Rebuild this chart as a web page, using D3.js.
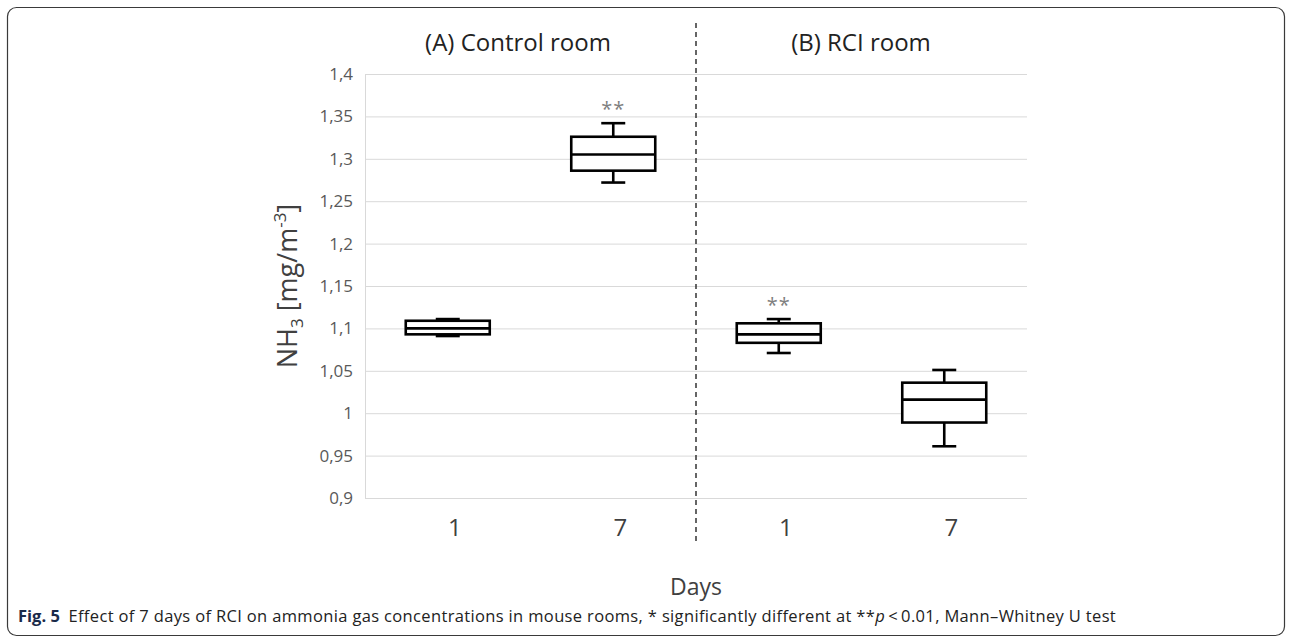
<!DOCTYPE html>
<html>
<head>
<meta charset="utf-8">
<script src="https://cdn.jsdelivr.net/npm/d3@7/dist/d3.min.js"></script>
<style>
  html, body { margin: 0; padding: 0; background: #fff; }
  svg { display: block; }
</style>
</head>
<body>
<svg id="chart" width="1292" height="640"></svg>
<script>
// ---- data ----
const categories = ["Control-1", "Control-7", "RCI-1", "RCI-7"];
const dayLabels = ["1", "7", "1", "7"];
const panelTitles = ["(A) Control room", "(B) RCI room"];
const whiskerMin = [1.091, 1.272, 1.071, 0.961];
const q1Values = [1.093, 1.286, 1.083, 0.989];
const medianValues = [1.100, 1.305, 1.093, 1.016];
const q3Values = [1.109, 1.326, 1.106, 1.036];
const whiskerMax = [1.111, 1.342, 1.111, 1.051];
const significance = ["", "**", "**", ""];
const yTicks = [0.9, 0.95, 1, 1.05, 1.1, 1.15, 1.2, 1.25, 1.3, 1.35, 1.4];
const xTitle = "Days";
const captionBold = "Fig. 5";
const captionText = "Effect of 7 days of RCI on ammonia gas concentrations in mouse rooms, * significantly different at **";
const captionRest = "\u2009<\u20090.01, Mann\u2013Whitney U test";

const svg = d3.select("#chart");
const FONT = "'Open Sans', 'Noto Sans', sans-serif";

// frame
svg.append("rect")
  .attr("x", 7.5).attr("y", 7.5).attr("width", 1277).attr("height", 628)
  .attr("rx", 9).attr("ry", 9)
  .attr("fill", "none").attr("stroke", "#3a3a3a").attr("stroke-width", 1.2);

const plot = { left: 365, right: 1027, top: 74, bottom: 498 };

const x = d3.scaleBand().domain(categories).range([plot.left, plot.right]).padding(0);
const y = d3.scaleLinear().domain([0.9, 1.4]).range([plot.bottom, plot.top]);

const fmt = v => String(v).replace(".", ",");

// gridlines
const grid = svg.append("g")
  .attr("transform", `translate(${plot.left},0)`)
  .call(d3.axisLeft(y).tickValues(yTicks).tickSize(-(plot.right - plot.left)).tickFormat(""));
grid.select(".domain").remove();
grid.selectAll(".tick line").attr("stroke", "#d9d9d9").attr("stroke-width", 1);

// left axis line (light)
svg.append("line")
  .attr("x1", plot.left + 0.5).attr("x2", plot.left + 0.5)
  .attr("y1", plot.top).attr("y2", plot.bottom)
  .attr("stroke", "#d9d9d9").attr("stroke-width", 1);

// y tick labels
const yAxis = svg.append("g")
  .attr("transform", `translate(${plot.left},0)`)
  .call(d3.axisLeft(y).tickValues(yTicks).tickSize(0).tickPadding(12).tickFormat(fmt));
yAxis.select(".domain").remove();
yAxis.selectAll("text")
  .attr("font-family", FONT).attr("font-size", 17).attr("fill", "#595959");

// x tick labels
const xAxis = svg.append("g")
  .attr("transform", `translate(0,${plot.bottom})`)
  .call(d3.axisBottom(x).tickSize(0).tickPadding(21).tickFormat((d, i) => dayLabels[i]));
xAxis.select(".domain").remove();
xAxis.selectAll("text")
  .attr("font-family", FONT).attr("font-size", 24).attr("fill", "#404040")
  .attr("dx", 7);

// divider
const mid = (x("Control-7") + x.bandwidth() + x("RCI-1")) / 2;
svg.append("line")
  .attr("x1", mid).attr("x2", mid).attr("y1", 23).attr("y2", 545)
  .attr("stroke", "#333").attr("stroke-width", 1.5).attr("stroke-dasharray", "5,4");

// panel titles
const panelCenters = [518, 861];
svg.selectAll("text.panel").data(panelTitles).enter().append("text")
  .attr("class", "panel")
  .attr("x", (d, i) => panelCenters[i]).attr("y", 51)
  .attr("text-anchor", "middle")
  .attr("font-family", FONT).attr("font-size", 24).attr("fill", "#222")
  .text(d => d);

// boxes
const boxW = 84, capW = 24;
const g = svg.append("g");
categories.forEach((c, i) => {
  const cx = x(c) + x.bandwidth() / 2;
  const sw = 2.6;
  g.append("line").attr("x1", cx).attr("x2", cx)
    .attr("y1", y(whiskerMax[i])).attr("y2", y(q3Values[i]))
    .attr("stroke", "#000").attr("stroke-width", sw);
  g.append("line").attr("x1", cx).attr("x2", cx)
    .attr("y1", y(q1Values[i])).attr("y2", y(whiskerMin[i]))
    .attr("stroke", "#000").attr("stroke-width", sw);
  g.append("line").attr("x1", cx - capW / 2).attr("x2", cx + capW / 2)
    .attr("y1", y(whiskerMax[i])).attr("y2", y(whiskerMax[i]))
    .attr("stroke", "#000").attr("stroke-width", sw);
  g.append("line").attr("x1", cx - capW / 2).attr("x2", cx + capW / 2)
    .attr("y1", y(whiskerMin[i])).attr("y2", y(whiskerMin[i]))
    .attr("stroke", "#000").attr("stroke-width", sw);
  g.append("rect")
    .attr("x", cx - boxW / 2).attr("width", boxW)
    .attr("y", y(q3Values[i])).attr("height", y(q1Values[i]) - y(q3Values[i]))
    .attr("fill", "#fff").attr("stroke", "#000").attr("stroke-width", sw);
  g.append("line").attr("x1", cx - boxW / 2).attr("x2", cx + boxW / 2)
    .attr("y1", y(medianValues[i])).attr("y2", y(medianValues[i]))
    .attr("stroke", "#000").attr("stroke-width", sw);
  if (significance[i]) {
    g.append("text")
      .attr("x", cx).attr("y", y(whiskerMax[i]) - 7)
      .attr("text-anchor", "middle")
      .attr("font-family", FONT).attr("font-size", 20).attr("fill", "#7f7f7f")
      .attr("letter-spacing", 1)
      .text(significance[i]);
  }
});

// axis titles
svg.append("text")
  .attr("x", (plot.left + plot.right) / 2).attr("y", 595)
  .attr("text-anchor", "middle")
  .attr("font-family", FONT).attr("font-size", 23).attr("fill", "#404040")
  .text(xTitle);

const yt = svg.append("text")
  .attr("transform", `translate(297,${(plot.top + plot.bottom) / 2}) rotate(-90)`)
  .attr("text-anchor", "middle")
  .attr("font-family", FONT).attr("font-size", 27).attr("fill", "#404040");
yt.append("tspan").text("NH");
yt.append("tspan").attr("font-size", 17).attr("dy", 6).text("3");
yt.append("tspan").attr("dy", -6).text(" [mg/m");
yt.append("tspan").attr("font-size", 17).attr("dy", -11).text("-3");
yt.append("tspan").attr("dy", 11).text("]");

// caption
const cap = svg.append("text")
  .attr("x", 18).attr("y", 622)
  .attr("font-family", FONT).attr("font-size", 16.5).attr("fill", "#222")
  .attr("letter-spacing", 0.35);
cap.append("tspan").attr("font-weight", "bold").attr("fill", "#1a2a4a").attr("letter-spacing", 0).text(captionBold);
cap.append("tspan").text("\u2002" + captionText);
cap.append("tspan").attr("font-style", "italic").text("p");
cap.append("tspan").text(captionRest);
</script>
</body>
</html>
